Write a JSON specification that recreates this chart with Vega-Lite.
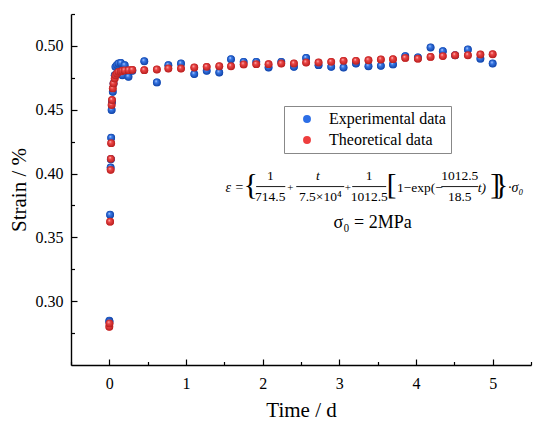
{
  "$schema": "https://vega.github.io/schema/vega-lite/v6.json",
  "autosize": {"type": "none"},
  "width": 460,
  "height": 351,
  "padding": {"left": 71, "top": 14, "right": 19, "bottom": 64},
  "background": "white",
  "config": {
    "view": {"stroke": null},
    "font": "Liberation Serif",
    "axis": {
      "domainColor": "black", "domainWidth": 1.4, "tickColor": "black", "tickWidth": 1.2,
      "labelColor": "black", "titleColor": "black", "labelFont": "Liberation Serif", "titleFont": "Liberation Serif",
      "labelFontSize": 16, "titleFontSize": 21, "titleFontWeight": "normal", "grid": false
    },
    "legend": {
      "labelFont": "Liberation Serif", "labelFontSize": 16, "labelColor": "black"
    }
  },
  "datasets": {
    "pts": [
      {"t": 0, "strain": 0.2847, "series": "Experimental data"},
      {"t": 0.002, "strain": 0.2838, "series": "Experimental data"},
      {"t": 0.01, "strain": 0.3677, "series": "Experimental data"},
      {"t": 0.017, "strain": 0.4047, "series": "Experimental data"},
      {"t": 0.02, "strain": 0.4112, "series": "Experimental data"},
      {"t": 0.024, "strain": 0.428, "series": "Experimental data"},
      {"t": 0.03, "strain": 0.4498, "series": "Experimental data"},
      {"t": 0.035, "strain": 0.456, "series": "Experimental data"},
      {"t": 0.045, "strain": 0.464, "series": "Experimental data"},
      {"t": 0.055, "strain": 0.4706, "series": "Experimental data"},
      {"t": 0.07, "strain": 0.477, "series": "Experimental data"},
      {"t": 0.08, "strain": 0.4836, "series": "Experimental data"},
      {"t": 0.1, "strain": 0.485, "series": "Experimental data"},
      {"t": 0.12, "strain": 0.4862, "series": "Experimental data"},
      {"t": 0.15, "strain": 0.4867, "series": "Experimental data"},
      {"t": 0.17, "strain": 0.477, "series": "Experimental data"},
      {"t": 0.2, "strain": 0.4849, "series": "Experimental data"},
      {"t": 0.25, "strain": 0.4758, "series": "Experimental data"},
      {"t": 0.3, "strain": 0.4805, "series": "Experimental data"},
      {"t": 0.456, "strain": 0.488, "series": "Experimental data"},
      {"t": 0.62, "strain": 0.4714, "series": "Experimental data"},
      {"t": 0.77, "strain": 0.4849, "series": "Experimental data"},
      {"t": 0.935, "strain": 0.4862, "series": "Experimental data"},
      {"t": 1.108, "strain": 0.4779, "series": "Experimental data"},
      {"t": 1.27, "strain": 0.4805, "series": "Experimental data"},
      {"t": 1.434, "strain": 0.4792, "series": "Experimental data"},
      {"t": 1.587, "strain": 0.4896, "series": "Experimental data"},
      {"t": 1.752, "strain": 0.4875, "series": "Experimental data"},
      {"t": 1.917, "strain": 0.4875, "series": "Experimental data"},
      {"t": 2.077, "strain": 0.4831, "series": "Experimental data"},
      {"t": 2.243, "strain": 0.4875, "series": "Experimental data"},
      {"t": 2.408, "strain": 0.4836, "series": "Experimental data"},
      {"t": 2.567, "strain": 0.4906, "series": "Experimental data"},
      {"t": 2.729, "strain": 0.4849, "series": "Experimental data"},
      {"t": 2.894, "strain": 0.4836, "series": "Experimental data"},
      {"t": 3.055, "strain": 0.4831, "series": "Experimental data"},
      {"t": 3.217, "strain": 0.4862, "series": "Experimental data"},
      {"t": 3.38, "strain": 0.4841, "series": "Experimental data"},
      {"t": 3.542, "strain": 0.4844, "series": "Experimental data"},
      {"t": 3.7, "strain": 0.4855, "series": "Experimental data"},
      {"t": 3.86, "strain": 0.492, "series": "Experimental data"},
      {"t": 4.025, "strain": 0.491, "series": "Experimental data"},
      {"t": 4.19, "strain": 0.4988, "series": "Experimental data"},
      {"t": 4.35, "strain": 0.4959, "series": "Experimental data"},
      {"t": 4.51, "strain": 0.4927, "series": "Experimental data"},
      {"t": 4.677, "strain": 0.4972, "series": "Experimental data"},
      {"t": 4.84, "strain": 0.49, "series": "Experimental data"},
      {"t": 5.0, "strain": 0.4862, "series": "Experimental data"},
      {"t": 0, "strain": 0.28, "series": "Theoretical data"},
      {"t": 0.002, "strain": 0.2826, "series": "Theoretical data"},
      {"t": 0.01, "strain": 0.3623, "series": "Theoretical data"},
      {"t": 0.017, "strain": 0.4029, "series": "Theoretical data"},
      {"t": 0.02, "strain": 0.4115, "series": "Theoretical data"},
      {"t": 0.024, "strain": 0.4238, "series": "Theoretical data"},
      {"t": 0.03, "strain": 0.4537, "series": "Theoretical data"},
      {"t": 0.035, "strain": 0.4576, "series": "Theoretical data"},
      {"t": 0.045, "strain": 0.4667, "series": "Theoretical data"},
      {"t": 0.055, "strain": 0.4706, "series": "Theoretical data"},
      {"t": 0.07, "strain": 0.4745, "series": "Theoretical data"},
      {"t": 0.08, "strain": 0.477, "series": "Theoretical data"},
      {"t": 0.1, "strain": 0.4784, "series": "Theoretical data"},
      {"t": 0.12, "strain": 0.4797, "series": "Theoretical data"},
      {"t": 0.15, "strain": 0.48, "series": "Theoretical data"},
      {"t": 0.17, "strain": 0.4805, "series": "Theoretical data"},
      {"t": 0.2, "strain": 0.4808, "series": "Theoretical data"},
      {"t": 0.25, "strain": 0.481, "series": "Theoretical data"},
      {"t": 0.3, "strain": 0.4812, "series": "Theoretical data"},
      {"t": 0.456, "strain": 0.481, "series": "Theoretical data"},
      {"t": 0.62, "strain": 0.4815, "series": "Theoretical data"},
      {"t": 0.77, "strain": 0.4823, "series": "Theoretical data"},
      {"t": 0.935, "strain": 0.4823, "series": "Theoretical data"},
      {"t": 1.108, "strain": 0.4831, "series": "Theoretical data"},
      {"t": 1.27, "strain": 0.4836, "series": "Theoretical data"},
      {"t": 1.434, "strain": 0.4841, "series": "Theoretical data"},
      {"t": 1.587, "strain": 0.4841, "series": "Theoretical data"},
      {"t": 1.752, "strain": 0.4855, "series": "Theoretical data"},
      {"t": 1.917, "strain": 0.4857, "series": "Theoretical data"},
      {"t": 2.077, "strain": 0.4857, "series": "Theoretical data"},
      {"t": 2.243, "strain": 0.4862, "series": "Theoretical data"},
      {"t": 2.408, "strain": 0.4862, "series": "Theoretical data"},
      {"t": 2.567, "strain": 0.487, "series": "Theoretical data"},
      {"t": 2.729, "strain": 0.487, "series": "Theoretical data"},
      {"t": 2.894, "strain": 0.4875, "series": "Theoretical data"},
      {"t": 3.055, "strain": 0.4883, "series": "Theoretical data"},
      {"t": 3.217, "strain": 0.4883, "series": "Theoretical data"},
      {"t": 3.38, "strain": 0.4888, "series": "Theoretical data"},
      {"t": 3.542, "strain": 0.4894, "series": "Theoretical data"},
      {"t": 3.7, "strain": 0.4896, "series": "Theoretical data"},
      {"t": 3.86, "strain": 0.4906, "series": "Theoretical data"},
      {"t": 4.025, "strain": 0.49, "series": "Theoretical data"},
      {"t": 4.19, "strain": 0.4914, "series": "Theoretical data"},
      {"t": 4.35, "strain": 0.492, "series": "Theoretical data"},
      {"t": 4.51, "strain": 0.4927, "series": "Theoretical data"},
      {"t": 4.677, "strain": 0.4927, "series": "Theoretical data"},
      {"t": 4.84, "strain": 0.4933, "series": "Theoretical data"},
      {"t": 5.0, "strain": 0.4935, "series": "Theoretical data"}
    ]
  },
  "resolve": {"axis": {"x": "independent", "y": "independent"}},
  "layer": [
    {
      "layer": [
        {
          "data": {"name": "pts"},
          "mark": {"type": "point", "filled": true, "shape": "circle", "size": 58, "opacity": 1, "strokeWidth": 0},
          "encoding": {
            "x": {
              "field": "t", "type": "quantitative",
              "scale": {"domain": [-0.5, 5.5], "nice": false, "zero": false},
              "axis": {
                "orient": "bottom", "title": "Time / d",
                "values": [0, 1, 2, 3, 4, 5], "format": "d",
                "tickSize": -6,
                "labelPadding": 16, "titlePadding": 8, "labelFlush": false, "labelOverlap": false
              }
            },
            "y": {
              "field": "strain", "type": "quantitative",
              "scale": {"domain": [0.25, 0.525], "nice": false, "zero": false},
              "axis": {
                "orient": "left", "title": "Strain / %",
                "values": [0.3, 0.35, 0.4, 0.45, 0.5],
                "format": ".2f",
                "tickSize": -6,
                "labelPadding": 14, "titlePadding": 6, "labelFlush": false, "labelOverlap": false
              }
            },
            "color": {
              "field": "series", "type": "nominal",
              "scale": {"domain": ["Experimental data", "Theoretical data"], "range": ["#2c6ee6", "#ee3e3e"]},
              "legend": {
                "title": null, "orient": "none", "legendX": 213, "legendY": 92,
                "strokeColor": "#888888", "padding": 5, "symbolOffset": 10, "labelOffset": 14,
                "symbolType": "circle", "symbolSize": 62, "rowPadding": 5, "symbolStrokeWidth": 0
              }
            }
          }
        },
        {
          "data": {"name": "pts"},
          "transform": [{"filter": "datum.series == 'Experimental data'"}],
          "mark": {"type": "point", "filled": true, "shape": "circle", "size": 62, "opacity": 1, "strokeWidth": 0,
            "color": {"gradient": "radial", "x1": 0.38, "y1": 0.32, "r1": 0, "x2": 0.5, "y2": 0.5, "r2": 0.55,
              "stops": [{"offset": 0, "color": "#dfe9ff"}, {"offset": 0.3, "color": "#3a7bea"}, {"offset": 1, "color": "#0c3c9e"}]}},
          "encoding": {"x": {"field": "t", "type": "quantitative"}, "y": {"field": "strain", "type": "quantitative"}}
        },
        {
          "data": {"name": "pts"},
          "transform": [{"filter": "datum.series == 'Theoretical data'"}],
          "mark": {"type": "point", "filled": true, "shape": "circle", "size": 62, "opacity": 1, "strokeWidth": 0,
            "color": {"gradient": "radial", "x1": 0.38, "y1": 0.32, "r1": 0, "x2": 0.5, "y2": 0.5, "r2": 0.55,
              "stops": [{"offset": 0, "color": "#ffe0e0"}, {"offset": 0.3, "color": "#f04848"}, {"offset": 1, "color": "#b01a1a"}]}},
          "encoding": {"x": {"field": "t", "type": "quantitative"}, "y": {"field": "strain", "type": "quantitative"}}
        },
        {"data": {"values": [{}]}, "mark": {"type": "text", "text": "ε =", "fontSize": 14, "fontStyle": "italic", "align": "left", "baseline": "middle"}, "encoding": {"x": {"datum": 1.515}, "y": {"datum": 0.3886}}},
        {"data": {"values": [{}]}, "mark": {"type": "text", "text": "{", "fontSize": 30, "align": "center", "baseline": "middle"}, "encoding": {"x": {"datum": 1.845}, "y": {"datum": 0.3912}}},
        {"data": {"values": [{}]}, "mark": {"type": "text", "text": "1", "fontSize": 13.5, "align": "center", "baseline": "middle"}, "encoding": {"x": {"datum": 2.099}, "y": {"datum": 0.3977}}},
        {"data": {"values": [{}]}, "mark": {"type": "text", "text": "714.5", "fontSize": 13.5, "align": "center", "baseline": "middle"}, "encoding": {"x": {"datum": 2.099}, "y": {"datum": 0.382}}},
        {"data": {"values": [{}]}, "mark": {"type": "rule", "color": "black", "strokeWidth": 0.9}, "encoding": {"x": {"datum": 1.915}, "x2": {"datum": 2.295}, "y": {"datum": 0.3898}}},
        {"data": {"values": [{}]}, "mark": {"type": "text", "text": "+", "fontSize": 11, "align": "center", "baseline": "middle"}, "encoding": {"x": {"datum": 2.36}, "y": {"datum": 0.3886}}},
        {"data": {"values": [{}]}, "mark": {"type": "text", "text": "t", "fontSize": 13.5, "fontStyle": "italic", "align": "center", "baseline": "middle"}, "encoding": {"x": {"datum": 2.72}, "y": {"datum": 0.3977}}},
        {"data": {"values": [{}]}, "mark": {"type": "text", "text": "7.5×10⁴", "fontSize": 13.5, "align": "center", "baseline": "middle"}, "encoding": {"x": {"datum": 2.751}, "y": {"datum": 0.382}}},
        {"data": {"values": [{}]}, "mark": {"type": "rule", "color": "black", "strokeWidth": 0.9}, "encoding": {"x": {"datum": 2.438}, "x2": {"datum": 3.064}, "y": {"datum": 0.3898}}},
        {"data": {"values": [{}]}, "mark": {"type": "text", "text": "+", "fontSize": 11, "align": "center", "baseline": "middle"}, "encoding": {"x": {"datum": 3.112}, "y": {"datum": 0.3886}}},
        {"data": {"values": [{}]}, "mark": {"type": "text", "text": "1", "fontSize": 13.5, "align": "center", "baseline": "middle"}, "encoding": {"x": {"datum": 3.39}, "y": {"datum": 0.3977}}},
        {"data": {"values": [{}]}, "mark": {"type": "text", "text": "1012.5", "fontSize": 13.5, "align": "center", "baseline": "middle"}, "encoding": {"x": {"datum": 3.39}, "y": {"datum": 0.382}}},
        {"data": {"values": [{}]}, "mark": {"type": "rule", "color": "black", "strokeWidth": 0.9}, "encoding": {"x": {"datum": 3.168}, "x2": {"datum": 3.611}, "y": {"datum": 0.3898}}},
        {"data": {"values": [{}]}, "mark": {"type": "text", "text": "[", "fontSize": 29, "align": "center", "baseline": "middle"}, "encoding": {"x": {"datum": 3.683}, "y": {"datum": 0.3912}}},
        {"data": {"values": [{}]}, "mark": {"type": "text", "text": "1−exp(−", "fontSize": 13.5, "align": "left", "baseline": "middle"}, "encoding": {"x": {"datum": 3.751}, "y": {"datum": 0.3886}}},
        {"data": {"values": [{}]}, "mark": {"type": "text", "text": "1012.5", "fontSize": 13.5, "align": "center", "baseline": "middle"}, "encoding": {"x": {"datum": 4.57}, "y": {"datum": 0.3977}}},
        {"data": {"values": [{}]}, "mark": {"type": "text", "text": "18.5", "fontSize": 13.5, "align": "center", "baseline": "middle"}, "encoding": {"x": {"datum": 4.57}, "y": {"datum": 0.382}}},
        {"data": {"values": [{}]}, "mark": {"type": "rule", "color": "black", "strokeWidth": 0.9}, "encoding": {"x": {"datum": 4.33}, "x2": {"datum": 4.81}, "y": {"datum": 0.3898}}},
        {"data": {"values": [{}]}, "mark": {"type": "text", "text": "t)", "fontSize": 13.5, "fontStyle": "italic", "align": "left", "baseline": "middle"}, "encoding": {"x": {"datum": 4.805}, "y": {"datum": 0.3886}}},
        {"data": {"values": [{}]}, "mark": {"type": "text", "text": "]", "fontSize": 29, "align": "center", "baseline": "middle"}, "encoding": {"x": {"datum": 5.03}, "y": {"datum": 0.3912}}},
        {"data": {"values": [{}]}, "mark": {"type": "text", "text": "}", "fontSize": 30, "align": "center", "baseline": "middle"}, "encoding": {"x": {"datum": 5.11}, "y": {"datum": 0.3912}}},
        {"data": {"values": [{}]}, "mark": {"type": "text", "text": "·σ₀", "fontSize": 14, "fontStyle": "italic", "align": "left", "baseline": "middle"}, "encoding": {"x": {"datum": 5.2}, "y": {"datum": 0.3886}}},
        {"data": {"values": [{}]}, "mark": {"type": "text", "text": "σ₀ = 2MPa", "fontSize": 18, "align": "center", "baseline": "middle"}, "encoding": {"x": {"datum": 3.435}, "y": {"datum": 0.3612}}}
      ]
    },
    {
      "data": {"name": "pts"},
      "mark": {"type": "point", "opacity": 0},
      "encoding": {
        "x": {
          "field": "t", "type": "quantitative",
          "axis": {"orient": "bottom", "title": null, "labels": false, "domain": false, "grid": false,
                   "values": [-0.5, 0.5, 1.5, 2.5, 3.5, 4.5, 5.5], "tickSize": -3.5}
        },
        "y": {
          "field": "strain", "type": "quantitative",
          "axis": {"orient": "left", "title": null, "labels": false, "domain": false, "grid": false,
                   "values": [0.275, 0.325, 0.375, 0.425, 0.475, 0.525], "tickSize": -3.5}
        }
      }
    }
  ]
}
